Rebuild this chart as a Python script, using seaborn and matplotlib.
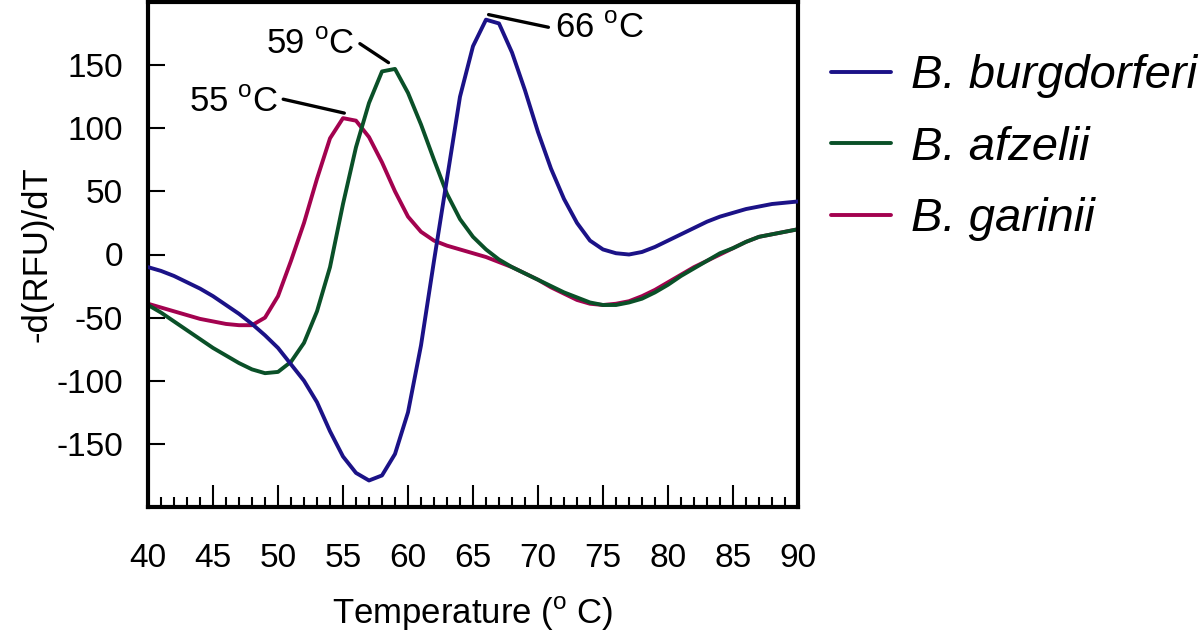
import numpy as np
import pandas as pd
import matplotlib
matplotlib.use("Agg")
import matplotlib.pyplot as plt
import seaborn as sns

# melt curve derivative data (1 degree steps)
temps = list(range(40, 91))

burgdorferi = [-10, -13, -17, -22, -27, -33, -40, -47, -55, -64,
               -74, -87, -100, -117, -140, -160, -173, -179, -175, -158,
               -125, -72, -5, 60, 125, 165, 186, 183, 160, 130,
               97, 68, 44, 25, 11, 4, 1, 0, 2, 6,
               11, 16, 21, 26, 30, 33, 36, 38, 40, 41, 42]
afzelii = [-40, -46, -53, -60, -67, -74, -80, -86, -91, -94,
           -93, -85, -70, -45, -10, 40, 85, 120, 145, 147,
           128, 103, 75, 48, 28, 14, 4, -4, -10, -15,
           -20, -25, -30, -34, -38, -40, -40, -38, -35, -30,
           -24, -17, -11, -5, 1, 5, 10, 14, 16, 18, 20]
garinii = [-39, -42, -45, -48, -51, -53, -55, -56, -56, -50,
           -33, -5, 25, 60, 92, 108, 106, 93, 73, 50,
           30, 18, 11, 7, 4, 1, -2, -6, -10, -15,
           -20, -26, -31, -36, -39, -40, -39, -37, -33, -28,
           -22, -16, -10, -5, 0, 5, 10, 14, 16, 18, 20]

species = ["B. burgdorferi", "B. afzelii", "B. garinii"]
colors = ["#1b1287", "#0a5028", "#a3024f"]

# peak labels: text, text position, leader line start/end
peak_labels = ["55 $^{\\mathrm{o}}$C", "59 $^{\\mathrm{o}}$C", "66 $^{\\mathrm{o}}$C"]
label_pos = [(50.0, 120), (55.9, 166), (71.3, 179)]
label_ha = ["right", "right", "left"]
leader_x = [(50.4, 55.1), (56.3, 58.5), (66.2, 70.8)]
leader_y = [(123, 112), (167, 152), (190, 180)]

df = pd.DataFrame({
    "Temperature": temps * 3,
    "dRFU": burgdorferi + afzelii + garinii,
    "Species": [species[0]] * len(temps) + [species[1]] * len(temps) + [species[2]] * len(temps),
})

sns.set_style("white")
plt.rcParams["font.family"] = ["Liberation Sans", "DejaVu Sans"]
plt.rcParams["mathtext.fontset"] = "custom"
plt.rcParams["mathtext.rm"] = "Liberation Sans"
plt.rcParams["axes.unicode_minus"] = False
plt.rcParams["text.color"] = "black"
plt.rcParams["axes.labelcolor"] = "black"
plt.rcParams["xtick.color"] = "black"
plt.rcParams["ytick.color"] = "black"

fig = plt.figure(figsize=(12, 6.37), dpi=100)
ax = fig.add_axes([148 / 1200, 1 - 507 / 637, 650 / 1200, 505 / 637])

sns.lineplot(data=df, x="Temperature", y="dRFU", hue="Species",
             hue_order=species, palette=colors, linewidth=2.8, ax=ax, legend=True)

# blue on top, magenta at the bottom
for line, z in zip(ax.lines, [3, 2.5, 2]):
    line.set_zorder(z)

ax.set_xlim(40, 90)
ax.set_ylim(-200, 200)
ax.set_xticks(range(40, 91, 5))
ax.set_xticks(range(40, 91, 1), minor=True)
ax.set_yticks([-150, -100, -50, 0, 50, 100, 150])

for s in ax.spines.values():
    s.set_linewidth(3)
    s.set_color("black")

ax.tick_params(axis="x", which="major", direction="in", length=16, width=1.5,
               labelsize=24, pad=26, bottom=True, top=False)
ax.tick_params(axis="x", which="minor", direction="in", length=7, width=1.5,
               bottom=True, top=False)
ax.tick_params(axis="y", which="major", direction="in", length=12, width=1.5,
               labelsize=24, pad=18, left=True, right=False)

ax.set_xlabel("Temperature ($^{\\mathrm{o}}$ C)", fontsize=25, labelpad=15)
ax.set_ylabel("-d(RFU)/dT", fontsize=25, labelpad=2)

for txt, pos, ha, lx, ly in zip(peak_labels, label_pos, label_ha, leader_x, leader_y):
    ax.plot(lx, ly, color="black", linewidth=2.4, zorder=4)
    ax.text(pos[0], pos[1], txt, ha=ha, va="center", fontsize=25)

handles, labels = ax.get_legend_handles_labels()
ax.get_legend().remove()
fig.legend(handles, labels, loc="upper left", bbox_to_anchor=(788 / 1200, 1 - 12 / 637),
           frameon=False, handlelength=1.28, handletextpad=0.43, labelspacing=0.58,
           prop={"family": "Liberation Sans", "style": "italic", "size": 34})

fig.savefig("out.png", dpi=100)
